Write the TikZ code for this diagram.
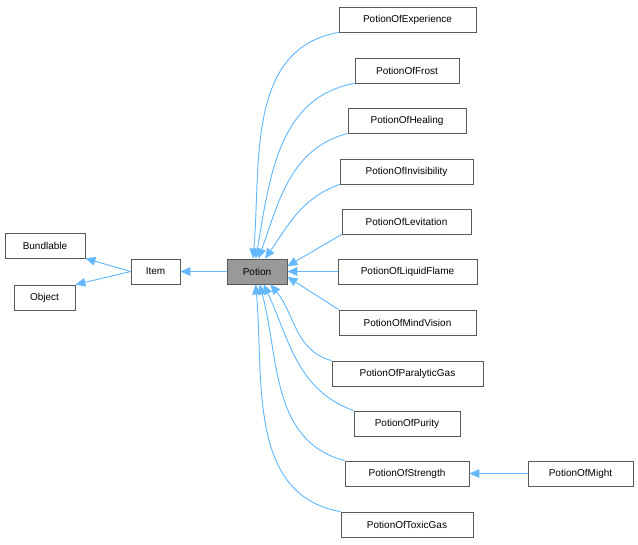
\documentclass[tikz,border=0pt]{standalone}
\usepackage{fontspec}
\setmainfont{Liberation Sans}
\usetikzlibrary{arrows.meta}
\begin{document}
\begin{tikzpicture}[x=0.75pt,y=-0.75pt,
  box/.style={draw=black!65,line width=0.6pt,fill=white,minimum height=18.75pt,inner sep=0pt,font=\fontsize{7.5}{9}\selectfont,anchor=center},
  arr/.style={draw={rgb,255:red,99;green,184;blue,255},line width=0.7pt,-{Triangle[length=7.5pt,width=6.5pt]}}]
\useasboundingbox (0,0) rectangle (638,544);
\newcommand{\bx}[6]{\node[box,minimum width=#4*0.75pt-#2*0.75pt,#6] (#1) at ({(#2+#4)/2},{(#3)+12.5}) {#5};}
\bx{bund}{5}{233}{85}{Bundlable}{}
\bx{obj}{14}{285}{75}{Object}{}
\bx{item}{131}{259}{180}{Item}{}
\bx{potion}{227}{259}{287}{Potion}{fill=black!40}
\bx{exp}{339}{7}{476}{PotionOfExperience}{}
\bx{frost}{355}{58}{459}{PotionOfFrost}{}
\bx{heal}{348}{108}{466}{PotionOfHealing}{}
\bx{invis}{340}{159}{473}{PotionOfInvisibility}{}
\bx{lev}{342}{209}{471}{PotionOfLevitation}{}
\bx{liq}{338}{259}{477}{PotionOfLiquidFlame}{}
\bx{mind}{339}{310}{476}{PotionOfMindVision}{}
\bx{para}{332}{361}{483}{PotionOfParalyticGas}{}
\bx{pur}{354}{411}{460}{PotionOfPurity}{}
\bx{str}{345}{461}{469}{PotionOfStrength}{}
\bx{might}{528}{461}{633}{PotionOfMight}{}
\bx{toxic}{341}{512}{473}{PotionOfToxicGas}{}
\draw[arr] (item.west) -- (bund.south east);
\draw[arr] (item.west) -- (obj.north east);
\draw[arr] (potion.west) -- (item.east);
\draw[arr] (liq.west) -- (potion.east);
\draw[arr] (might.west) -- (str.east);
\draw[arr] (exp.south west) to[out=190,in=85] ([xshift=-3pt]potion.north);
\draw[arr] (frost.south west) to[out=190,in=80] ([xshift=-1pt]potion.north);
\draw[arr] (heal.south west) to[out=195,in=70] ([xshift=1pt]potion.north);
\draw[arr] (invis.south west) to[out=200,in=55] ([xshift=6pt]potion.north);
\draw[arr] (lev.south west) -- ([yshift=4pt]potion.east);
\draw[arr] (mind.north west) -- ([yshift=-4pt]potion.east);
\draw[arr] (para.north west) to[out=165,in=-50] ([xshift=10pt]potion.south);
\draw[arr] (pur.north west) to[out=160,in=-65] ([xshift=5pt]potion.south);
\draw[arr] (str.north west) to[out=165,in=-75] ([xshift=2pt]potion.south);
\draw[arr] (toxic.north west) to[out=170,in=-85] ([xshift=-1pt]potion.south);
\end{tikzpicture}
\end{document}
